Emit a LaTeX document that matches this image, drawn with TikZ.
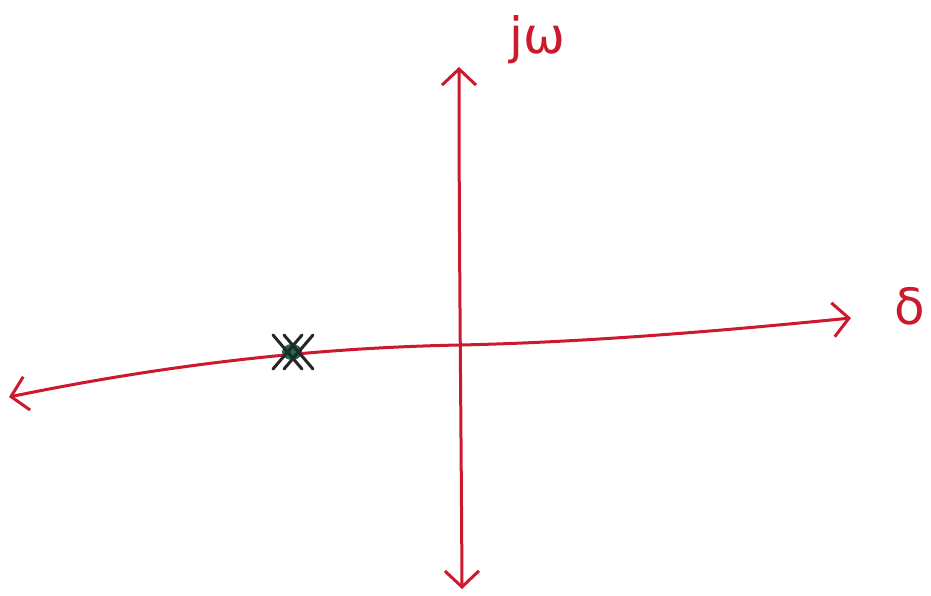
\documentclass[tikz,border=0pt]{standalone}
\usepackage{fontspec}
\newfontfamily\handfont{DejaVu Sans}
\usetikzlibrary{arrows.meta}
\definecolor{penred}{RGB}{205,25,45}
\definecolor{pengreen}{RGB}{20,110,80}
\tikzset{
  axis/.style={draw=penred, line width=3pt, line cap=round, {Straight Barb[length=16pt,width=34pt,line width=3pt]}-{Straight Barb[length=16pt,width=34pt,line width=3pt]}},
  lbl/.style={text=penred, font=\handfont\fontsize{50}{50}\selectfont},
  crossline/.style={draw=black!85, line width=3pt, line cap=round}
}
\begin{document}
\begin{tikzpicture}[x=1pt,y=-1pt]
\useasboundingbox[fill=white] (0,0) rectangle (931,595);
\coordinate (top) at (459,67);
\coordinate (bot) at (462,589);
\coordinate (left) at (9,397);
\coordinate (right) at (851,318);
\coordinate (pole) at (292,352);
\draw[axis] (bot) .. controls (461,400) and (459,250) .. (top);
\draw[axis] (left) .. controls (150,368) and (300,348) .. (460,345) .. controls (600,342) and (750,328) .. (right);
\node[lbl, anchor=center] (jw) at (537,40) {jω};
\node[lbl, anchor=center] (sig) at (910,306) {δ};
\fill[pengreen] (pole) ellipse (10 and 8);
\draw[crossline] (273,335) -- (302,369);
\draw[crossline] (273,369) -- (302,335);
\draw[crossline] (284,335) -- (313,369);
\draw[crossline] (284,369) -- (313,335);
\end{tikzpicture}
\end{document}
